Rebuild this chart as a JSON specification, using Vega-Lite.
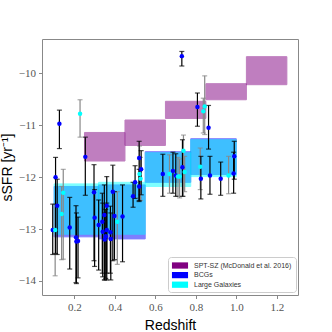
{
"$schema": "https://vega.github.io/schema/vega-lite/v6.json",
"width": 256, "height": 256,
"autosize": "none",
"padding": {"left": 42, "top": 39, "right": 34, "bottom": 37},
"background": "white",
"config": {
 "view": {"stroke": "#888", "strokeWidth": 1},
 "axis": {"grid": false, "domain": false, "labelFont": "Liberation Serif", "labelFontSize": 11, "labelColor": "#555", "tickColor": "#888", "tickSize": 3.5, "titleFont": "Liberation Sans", "titleFontSize": 14, "titleFontWeight": "normal", "titleColor": "black"}
},
"datasets": {
 "boxes": [
  {"kind": "SPT-SZ (McDonald et al. 2016)", "z0": 0.25, "z1": 0.45, "s0": -11.14, "s1": -11.69},
  {"kind": "SPT-SZ (McDonald et al. 2016)", "z0": 0.45, "z1": 0.65, "s0": -10.90, "s1": -11.39},
  {"kind": "SPT-SZ (McDonald et al. 2016)", "z0": 0.65, "z1": 0.85, "s0": -10.54, "s1": -10.87},
  {"kind": "SPT-SZ (McDonald et al. 2016)", "z0": 0.85, "z1": 1.05, "s0": -10.20, "s1": -10.51},
  {"kind": "SPT-SZ (McDonald et al. 2016)", "z0": 1.05, "z1": 1.25, "s0": -9.68, "s1": -10.22},
  {"kind": "BCGs", "z0": 0.10, "z1": 0.32, "s0": -12.18, "s1": -13.15},
  {"kind": "BCGs", "z0": 0.32, "z1": 0.55, "s0": -12.15, "s1": -13.19},
  {"kind": "BCGs", "z0": 0.55, "z1": 0.775, "s0": -11.51, "s1": -12.10},
  {"kind": "BCGs", "z0": 0.775, "z1": 1.0, "s0": -11.26, "s1": -11.95},
  {"kind": "Large Galaxies", "z0": 0.10, "z1": 0.32, "s0": -12.13, "s1": -13.10},
  {"kind": "Large Galaxies", "z0": 0.32, "z1": 0.55, "s0": -12.10, "s1": -13.10},
  {"kind": "Large Galaxies", "z0": 0.55, "z1": 0.775, "s0": -11.53, "s1": -12.18},
  {"kind": "Large Galaxies", "z0": 0.775, "z1": 1.0, "s0": -11.28, "s1": -11.99}
 ],
 "points": [
  {"kind": "BCGs", "z": 0.093, "s": -13.02, "lo": -13.49, "hi": -12.52},
  {"kind": "BCGs", "z": 0.107, "s": -12.00, "lo": -13.47, "hi": -11.62},
  {"kind": "BCGs", "z": 0.115, "s": -12.55, "lo": -13.49, "hi": -12.04},
  {"kind": "BCGs", "z": 0.126, "s": -10.97, "lo": -11.45, "hi": -10.71},
  {"kind": "BCGs", "z": 0.177, "s": -12.97, "lo": -13.77, "hi": -12.39},
  {"kind": "BCGs", "z": 0.208, "s": -13.16, "lo": -14.03, "hi": -12.55},
  {"kind": "BCGs", "z": 0.210, "s": -13.24, "lo": -14.05, "hi": -12.69},
  {"kind": "BCGs", "z": 0.218, "s": -13.23, "lo": -13.94, "hi": -12.77},
  {"kind": "BCGs", "z": 0.254, "s": -11.61, "lo": -12.35, "hi": -11.23},
  {"kind": "BCGs", "z": 0.297, "s": -12.29, "lo": -13.61, "hi": -11.76},
  {"kind": "BCGs", "z": 0.300, "s": -12.78, "lo": -13.72, "hi": -12.24},
  {"kind": "BCGs", "z": 0.320, "s": -12.92, "lo": -13.79, "hi": -12.44},
  {"kind": "BCGs", "z": 0.338, "s": -12.86, "lo": -13.85, "hi": -12.31},
  {"kind": "BCGs", "z": 0.340, "s": -13.05, "lo": -13.92, "hi": -12.50},
  {"kind": "BCGs", "z": 0.348, "s": -12.73, "lo": -13.98, "hi": -12.15},
  {"kind": "BCGs", "z": 0.350, "s": -13.20, "lo": -13.98, "hi": -12.69},
  {"kind": "BCGs", "z": 0.355, "s": -13.14, "lo": -13.95, "hi": -12.62},
  {"kind": "BCGs", "z": 0.360, "s": -12.55, "lo": -13.98, "hi": -11.99},
  {"kind": "BCGs", "z": 0.360, "s": -13.02, "lo": -13.85, "hi": -12.50},
  {"kind": "BCGs", "z": 0.378, "s": -13.06, "lo": -13.85, "hi": -12.56},
  {"kind": "BCGs", "z": 0.380, "s": -13.19, "lo": -13.98, "hi": -12.69},
  {"kind": "BCGs", "z": 0.390, "s": -12.28, "lo": -13.61, "hi": -11.77},
  {"kind": "BCGs", "z": 0.398, "s": -12.75, "lo": -13.59, "hi": -12.28},
  {"kind": "BCGs", "z": 0.438, "s": -12.76, "lo": -13.63, "hi": -12.15},
  {"kind": "BCGs", "z": 0.490, "s": -12.37, "lo": -12.58, "hi": -12.10},
  {"kind": "BCGs", "z": 0.500, "s": -12.10, "lo": -12.41, "hi": -11.78},
  {"kind": "BCGs", "z": 0.520, "s": -11.63, "lo": -12.47, "hi": -11.31},
  {"kind": "BCGs", "z": 0.520, "s": -12.18, "lo": -12.45, "hi": -11.85},
  {"kind": "BCGs", "z": 0.530, "s": -11.85, "lo": -12.34, "hi": -11.49},
  {"kind": "BCGs", "z": 0.637, "s": -11.94, "lo": -12.37, "hi": -11.56},
  {"kind": "BCGs", "z": 0.687, "s": -11.88, "lo": -12.31, "hi": -11.52},
  {"kind": "BCGs", "z": 0.701, "s": -11.97, "lo": -12.37, "hi": -11.55},
  {"kind": "BCGs", "z": 0.734, "s": -11.81, "lo": -12.37, "hi": -11.28},
  {"kind": "BCGs", "z": 0.731, "s": -9.67, "lo": -9.86, "hi": -9.58},
  {"kind": "BCGs", "z": 0.808, "s": -10.65, "lo": -11.02, "hi": -10.38},
  {"kind": "BCGs", "z": 0.825, "s": -12.03, "lo": -12.42, "hi": -11.60},
  {"kind": "BCGs", "z": 0.863, "s": -11.05, "lo": -11.46, "hi": -10.62},
  {"kind": "BCGs", "z": 0.870, "s": -11.97, "lo": -12.33, "hi": -11.60},
  {"kind": "BCGs", "z": 0.923, "s": -12.03, "lo": -12.35, "hi": -11.71},
  {"kind": "BCGs", "z": 0.987, "s": -11.93, "lo": -12.31, "hi": -11.52},
  {"kind": "BCGs", "z": 0.990, "s": -11.60, "lo": -12.04, "hi": -11.31},
  {"kind": "Large Galaxies", "z": 0.105, "s": -13.02, "lo": -13.90, "hi": -12.52},
  {"kind": "Large Galaxies", "z": 0.137, "s": -12.71, "lo": -13.59, "hi": -12.18},
  {"kind": "Large Galaxies", "z": 0.145, "s": -12.30, "lo": -13.58, "hi": -11.85},
  {"kind": "Large Galaxies", "z": 0.228, "s": -10.78, "lo": -11.23, "hi": -10.51},
  {"kind": "Large Galaxies", "z": 0.412, "s": -12.86, "lo": -13.68, "hi": -12.28},
  {"kind": "Large Galaxies", "z": 0.522, "s": -11.94, "lo": -12.40, "hi": -11.40},
  {"kind": "Large Galaxies", "z": 0.527, "s": -12.03, "lo": -12.45, "hi": -11.62},
  {"kind": "Large Galaxies", "z": 0.670, "s": -11.94, "lo": -12.31, "hi": -11.57},
  {"kind": "Large Galaxies", "z": 0.712, "s": -11.99, "lo": -12.37, "hi": -11.62},
  {"kind": "Large Galaxies", "z": 0.720, "s": -11.99, "lo": -12.40, "hi": -11.65},
  {"kind": "Large Galaxies", "z": 0.739, "s": -11.49, "lo": -12.37, "hi": -11.19},
  {"kind": "Large Galaxies", "z": 0.745, "s": -11.90, "lo": -12.28, "hi": -11.60},
  {"kind": "Large Galaxies", "z": 0.822, "s": -11.80, "lo": -12.24, "hi": -11.44},
  {"kind": "Large Galaxies", "z": 0.837, "s": -10.73, "lo": -11.15, "hi": -10.48},
  {"kind": "Large Galaxies", "z": 0.844, "s": -10.64, "lo": -11.18, "hi": -10.05},
  {"kind": "Large Galaxies", "z": 0.962, "s": -11.97, "lo": -12.32, "hi": -11.60}
 ]
},
"layer": [
 {
  "data": {"name": "boxes"},
  "mark": {"type": "rect", "opacity": 0.5, "strokeWidth": 1},
  "encoding": {
   "x": {"field": "z0", "type": "quantitative", "scale": {"domain": [0.04, 1.305], "nice": false, "zero": false},
     "axis": {"values": [0.2, 0.4, 0.6, 0.8, 1.0, 1.2], "format": ".1f", "title": "Redshift", "titlePadding": 6, "labelPadding": 3}},
   "x2": {"field": "z1"},
   "y": {"field": "s0", "type": "quantitative", "scale": {"domain": [-14.27, -9.34], "nice": false, "zero": false},
     "axis": {"values": [-14, -13, -12, -11, -10], "format": "d", "title": "sSFR [yr⁻¹]", "titlePadding": 4, "labelPadding": 3}},
   "y2": {"field": "s1"},
   "color": {"field": "kind", "type": "nominal",
     "scale": {"domain": ["SPT-SZ (McDonald et al. 2016)", "BCGs", "Large Galaxies"], "range": ["#800080", "#0000ff", "#00ffff"]},
     "legend": {"title": null, "orient": "none", "legendX": 126, "legendY": 218, "fillColor": "white", "strokeColor": "#ccc", "padding": 4, "cornerRadius": 3,
       "labelFont": "Liberation Sans", "labelFontSize": 7, "labelColor": "#333", "labelOffset": 9.5, "symbolOffset": 3.5, "rowPadding": 1.6, "symbolType": "M-1.8,-0.7H1.8V0.7H-1.8Z", "symbolSize": 80, "symbolOpacity": 1, "symbolStrokeWidth": 0}},
   "stroke": {"field": "kind", "type": "nominal",
     "scale": {"domain": ["SPT-SZ (McDonald et al. 2016)", "BCGs", "Large Galaxies"], "range": ["#800080", "#0000ff", "#00ffff"]}, "legend": null}
  }
 },
 {
  "data": {"name": "points"},
  "transform": [{"filter": "datum.kind === 'Large Galaxies'"}],
  "mark": {"type": "rule", "color": "#888", "strokeWidth": 1.2},
  "encoding": {"x": {"field": "z", "type": "quantitative"}, "y": {"field": "lo", "type": "quantitative"}, "y2": {"field": "hi"}}
 },
 {
  "data": {"name": "points"},
  "transform": [{"filter": "datum.kind === 'Large Galaxies'"}, {"fold": ["lo", "hi"], "as": ["end", "val"]}],
  "mark": {"type": "tick", "orient": "horizontal", "color": "#888", "size": 5, "thickness": 1.2},
  "encoding": {"x": {"field": "z", "type": "quantitative"}, "y": {"field": "val", "type": "quantitative"}}
 },
 {
  "data": {"name": "points"},
  "transform": [{"filter": "datum.kind === 'BCGs'"}],
  "mark": {"type": "rule", "color": "black", "strokeWidth": 1.2},
  "encoding": {"x": {"field": "z", "type": "quantitative"}, "y": {"field": "lo", "type": "quantitative"}, "y2": {"field": "hi"}}
 },
 {
  "data": {"name": "points"},
  "transform": [{"filter": "datum.kind === 'BCGs'"}, {"fold": ["lo", "hi"], "as": ["end", "val"]}],
  "mark": {"type": "tick", "orient": "horizontal", "color": "black", "size": 5, "thickness": 1.2},
  "encoding": {"x": {"field": "z", "type": "quantitative"}, "y": {"field": "val", "type": "quantitative"}}
 },
 {
  "data": {"name": "points"},
  "mark": {"type": "circle", "size": 20, "opacity": 1},
  "encoding": {"x": {"field": "z", "type": "quantitative"}, "y": {"field": "s", "type": "quantitative"},
   "color": {"field": "kind", "type": "nominal", "legend": null}}
 }
]
}
